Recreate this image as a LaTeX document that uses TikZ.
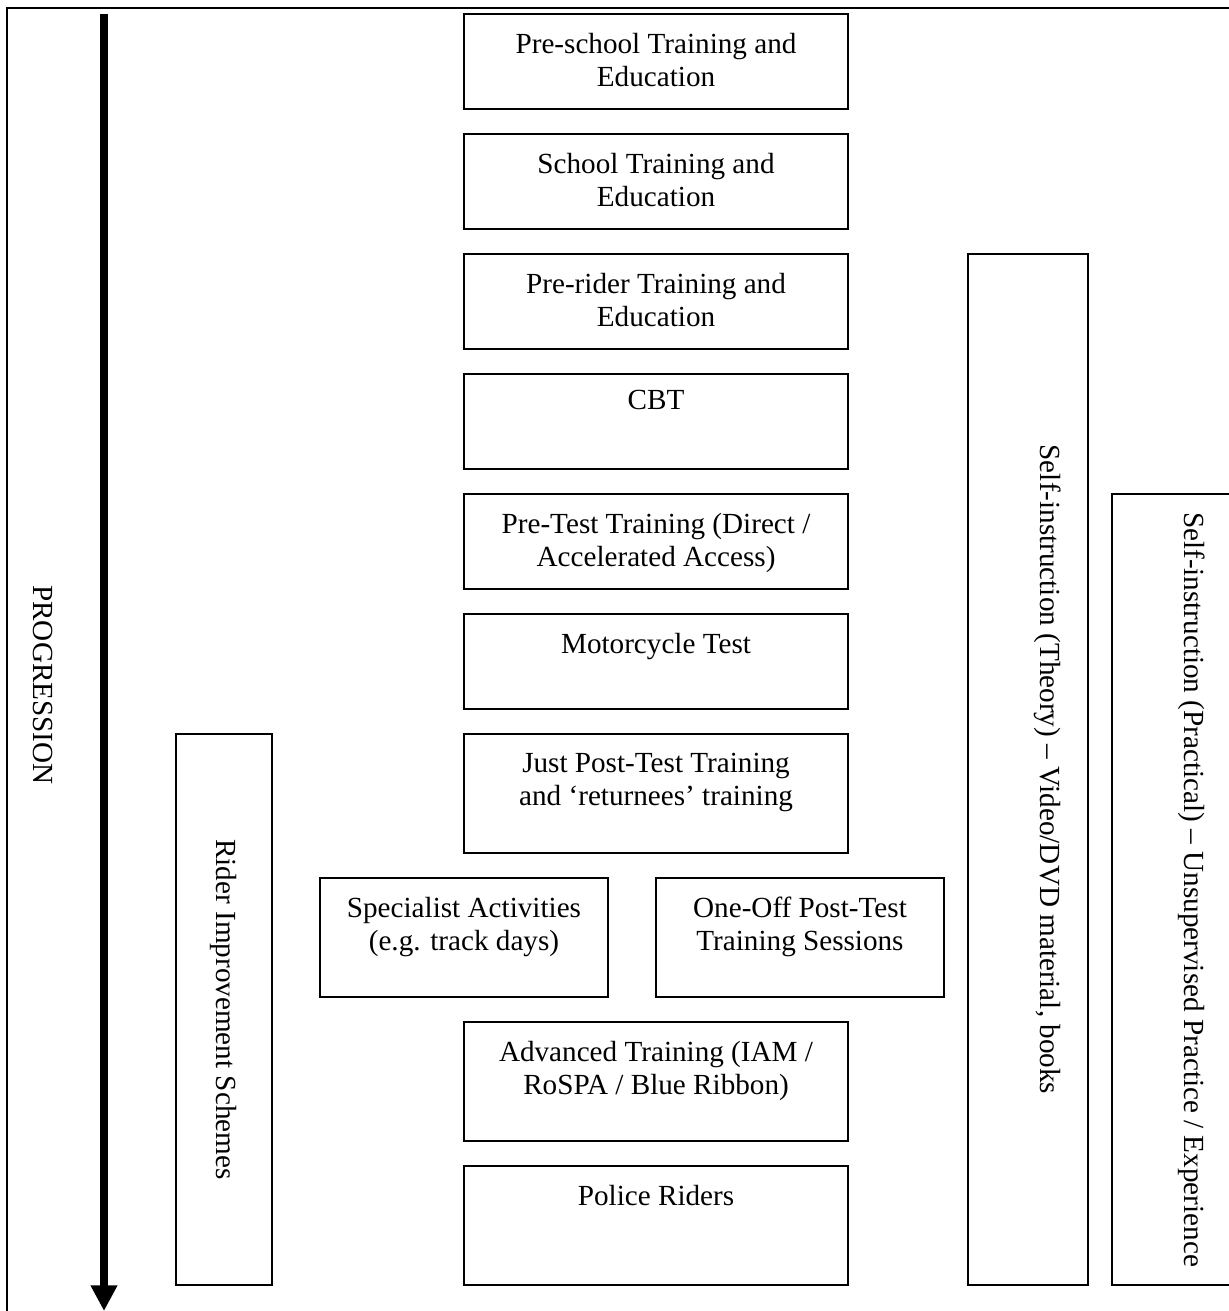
\documentclass[tikz,border=0pt]{standalone}
\usepackage{fontspec}
\setmainfont{Liberation Serif}
\usetikzlibrary{arrows.meta, positioning}
\tikzset{every node/.append style={align=center}}

\begin{document}
\begin{tikzpicture}[
  stage/.style={rectangle, draw, line width=0.6pt, minimum width=5.553cm,
                minimum height=1.374cm, inner sep=0pt},
  tallstage/.style={stage, minimum height=1.721cm},
  sidestage/.style={stage, minimum width=4.164cm, minimum height=1.721cm},
  column/.style={rectangle, draw, line width=0.6pt, minimum width=1.735cm,
                 inner sep=0pt},
  boxtext/.style={anchor=north, inner xsep=0pt, inner ysep=8pt,
                  font=\fontsize{12pt}{13.6pt}\selectfont},
  coltext/.style={boxtext, rotate=-90, inner ysep=11pt},
  flow/.style={-{Triangle[width=10.3pt, length=10.5pt]}, line width=3.6pt}
]

\useasboundingbox (0,0) rectangle (17.771,-18.957);
\clip (0,0) rectangle (17.771,-18.957);

% Outer frame
\draw[line width=0.8pt] (0.1,-20) |- (19,-0.116);

% Progression arrow
\coordinate (start) at (1.504,-0.202);
\coordinate (end) at (1.504,-18.957);
\draw[flow] (start) -- (end);
\node[font=\fontsize{12pt}{13.6pt}\selectfont, rotate=-90, inner sep=0pt]
      (progress) at (0.622,-9.905) {PROGRESSION};

% Main column
\node[stage] (preschool) at (9.486,-0.889)
      [label={[boxtext]north:Pre-school Training and\\Education}] {};
\node[stage] (school) at (9.486,-2.624)
      [label={[boxtext]north:School Training and\\Education}] {};
\node[stage] (prerider) at (9.486,-4.360)
      [label={[boxtext]north:Pre-rider Training and\\Education}] {};
\node[stage] (cbt) at (9.486,-6.095)
      [label={[boxtext, inner ysep=6.8pt]north:CBT}] {};
\node[stage] (pretest) at (9.486,-7.830)
      [label={[boxtext]north:Pre-Test Training (Direct /\\Accelerated Access)}] {};
\node[stage] (mctest) at (9.486,-9.565)
      [label={[boxtext]north:Motorcycle Test}] {};
\node[tallstage] (posttest) at (9.486,-11.474)
      [label={[boxtext]north:Just Post-Test Training\\and ‘returnees’ training}] {};

\node[sidestage] (specialist) at (6.709,-13.556)
      [label={[boxtext]north:Specialist Activities\\(e.g. track days)}] {};
\node[sidestage] (oneoff) at (11.568,-13.556)
      [label={[boxtext]north:One-Off Post-Test\\Training Sessions}] {};

\node[tallstage] (advanced) at (9.486,-15.638)
      [label={[boxtext]north:Advanced Training (IAM /\\RoSPA / Blue Ribbon)}] {};
\node[tallstage] (police) at (9.486,-17.721)
      [label={[boxtext]north:Police Riders}] {};

% Side columns
\node[column, minimum width=1.388cm, minimum height=7.967cm]
      (rider) at (3.239,-14.597)
      [label={[boxtext, rotate=-90, anchor=center, inner ysep=0pt]center:Rider Improvement Schemes}] {};
\node[column, minimum height=14.908cm] (theory) at (14.865,-11.127)
      [label={[coltext]east:{Self-instruction (Theory) – Video/DVD material, books}}] {};
\node[column, minimum height=11.438cm] (practical) at (16.947,-12.862)
      [label={[coltext]east:{Self-instruction (Practical) – Unsupervised Practice / Experience}}] {};

\end{tikzpicture}
\end{document}
